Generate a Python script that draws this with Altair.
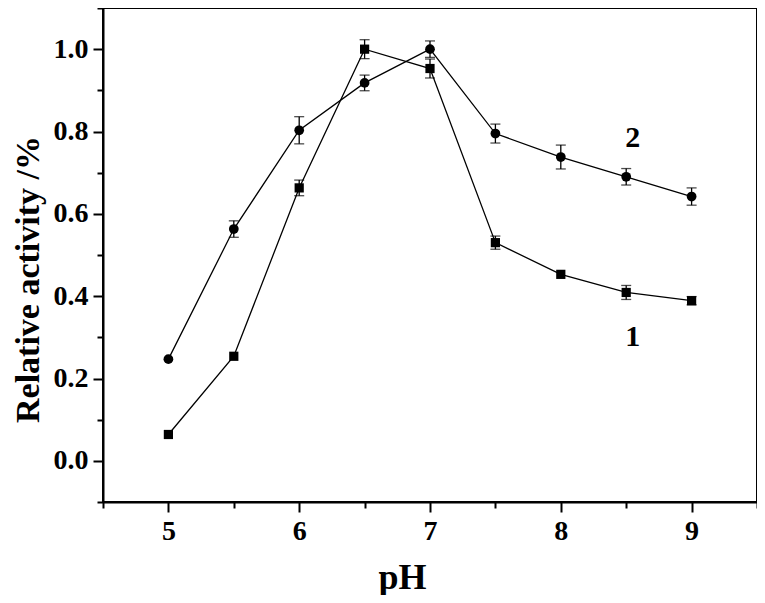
import altair as alt
import pandas as pd

ph = [5.0, 5.5, 6.0, 6.5, 7.0, 7.5, 8.0, 8.5, 9.0]
act1 = [0.064, 0.254, 0.663, 1.000, 0.953, 0.530, 0.453, 0.409, 0.389]
err1 = [0.0, 0.0, 0.019, 0.023, 0.023, 0.016, 0.0, 0.017, 0.010]
act2 = [0.247, 0.563, 0.803, 0.918, 1.000, 0.795, 0.738, 0.690, 0.642]
err2 = [0.0, 0.020, 0.033, 0.019, 0.020, 0.023, 0.029, 0.020, 0.021]

label_text = ["1", "2"]
label_x = [8.55, 8.55]
label_y = [0.300, 0.784]

rows = []
for s, a, e in (("1", act1, err1), ("2", act2, err2)):
    for x, y, d in zip(ph, a, e):
        rows.append({"pH": x, "act": y, "lo": y - d, "hi": y + d, "series": s})
df = pd.DataFrame(rows)
labels = pd.DataFrame({"t": label_text, "x": label_x, "y": label_y})

FONT = "Liberation Serif"

x_ticks = [4.5 + 0.5 * i for i in range(11)]
y_ticks = [round(-0.1 + 0.1 * i, 1) for i in range(13)]

xs = alt.Scale(domain=[4.5, 9.5], nice=False, zero=False)
ys = alt.Scale(domain=[-0.1, 1.1], nice=False, zero=False)

x_axis = alt.Axis(
    title="pH", values=x_ticks,
    labelExpr="datum.value % 1 === 0 ? format(datum.value, 'd') : ''",
    tickSize={"condition": {"test": "datum.value % 1 === 0", "value": 10}, "value": 6},
    grid=False, labelPadding=5,
    titleX=299, titleY=86, titleBaseline="alphabetic", titleAlign="center",
)
y_axis = alt.Axis(
    title="Relative activity /%", values=y_ticks,
    labelExpr="(round(datum.value * 10) % 2 === 0 && datum.value > -0.05) ? format(datum.value, '.1f') : ''",
    tickSize={"condition": {"test": "round(datum.value * 10) % 2 === 0", "value": 10}, "value": 6},
    grid=False, labelPadding=5,
    titleX=-65, titleY=271, titleAngle=270, titleBaseline="alphabetic", titleAlign="center",
)

base = alt.Chart(df)

lines = base.mark_line(color="black", strokeWidth=1.3).encode(
    x=alt.X("pH:Q", scale=xs, axis=x_axis),
    y=alt.Y("act:Q", scale=ys, axis=y_axis),
    detail="series:N",
)

err = base.transform_filter("datum.hi - datum.lo > 0.001")
bars = err.mark_rule(color="black", strokeWidth=1.3).encode(
    x="pH:Q", y="lo:Q", y2="hi:Q"
)
cap_lo = err.mark_tick(color="black", thickness=1.3, size=10, orient="horizontal").encode(
    x="pH:Q", y="lo:Q"
)
cap_hi = err.mark_tick(color="black", thickness=1.3, size=10, orient="horizontal").encode(
    x="pH:Q", y="hi:Q"
)

points = base.mark_point(filled=True, color="black", opacity=1).encode(
    x="pH:Q", y="act:Q",
    shape=alt.Shape("series:N", scale=alt.Scale(domain=["1", "2"], range=["square", "circle"]), legend=None),
    size=alt.Size("series:N", scale=alt.Scale(domain=["1", "2"], range=[85, 95]), legend=None),
)

texts = alt.Chart(labels).mark_text(
    font=FONT, fontSize=30, fontWeight="bold", color="black"
).encode(x="x:Q", y="y:Q", text="t:N")

chart = alt.layer(lines, bars, cap_lo, cap_hi, points, texts).properties(
    width=654, height=494,
    padding={"left": 95, "top": 0, "right": 0, "bottom": 93},
    autosize=alt.AutoSizeParams(type="none"),
).configure_view(
    stroke="black", strokeWidth=2
).configure_axis(
    domainColor="black", domainWidth=2, tickColor="black", tickWidth=2,
    labelFont=FONT, labelFontSize=28, labelFontWeight="bold", labelColor="black",
    titleFont=FONT, titleFontWeight="bold", titleColor="black",
).configure_axisX(
    titleFontSize=36
).configure_axisY(
    titleFontSize=34
)

chart.save("out.html", embed_options={"renderer": "svg", "actions": False})
